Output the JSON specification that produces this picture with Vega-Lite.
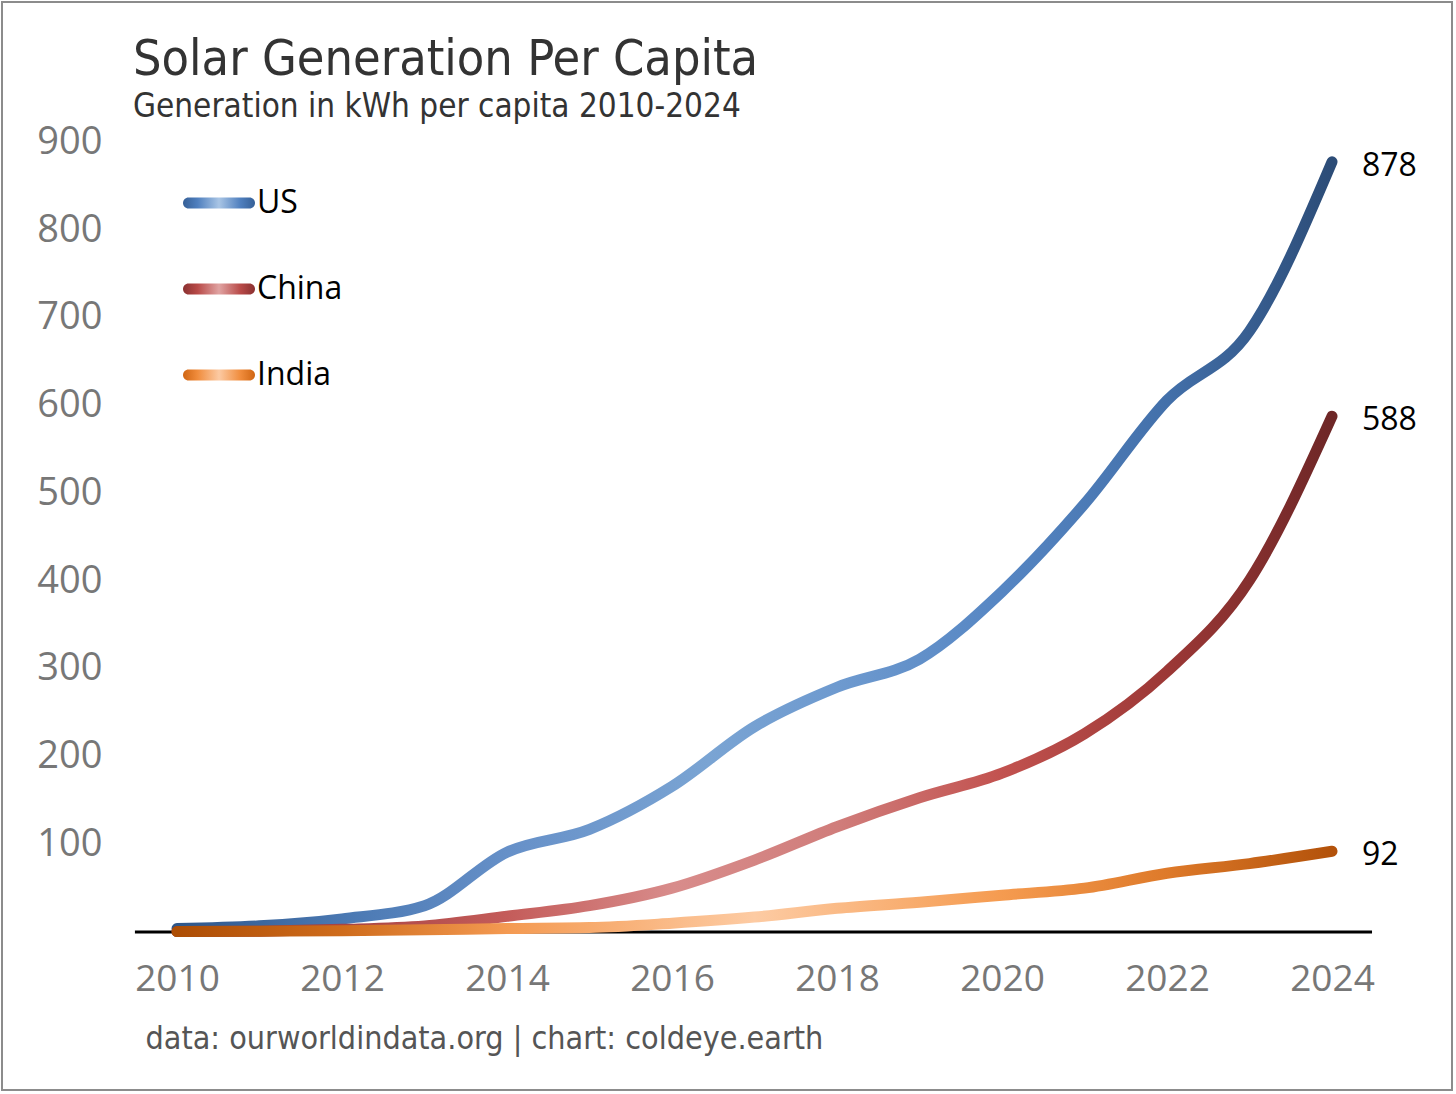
{
  "$schema": "https://vega.github.io/schema/vega-lite/v6.json",
  "width": 1450,
  "height": 1088,
  "padding": 2,
  "autosize": {"type": "pad"},
  "background": "white",
  "view": {"stroke": "#8c8c8c", "strokeWidth": 2},
  "title": {
    "text": "Solar Generation Per Capita",
    "subtitle": "Generation in kWh per capita 2010-2024",
    "anchor": "start",
    "frame": "group",
    "dx": 131,
    "offset": -122,
    "font": "Liberation Sans Narrow, DejaVu Sans Condensed, Roboto Condensed, Roboto",
    "fontSize": 50,
    "fontWeight": "normal",
    "color": "#333333",
    "subtitleFont": "Liberation Sans Narrow, DejaVu Sans Condensed, Roboto Condensed, Roboto",
    "subtitleFontSize": 33,
    "subtitleColor": "#333333",
    "subtitlePadding": 6
  },
  "data": {
    "values": [
      {"country": "US", "year": 2010, "value": 4},
      {"country": "US", "year": 2011, "value": 7},
      {"country": "US", "year": 2012, "value": 15},
      {"country": "US", "year": 2013, "value": 30},
      {"country": "US", "year": 2014, "value": 91},
      {"country": "US", "year": 2015, "value": 117},
      {"country": "US", "year": 2016, "value": 166},
      {"country": "US", "year": 2017, "value": 234},
      {"country": "US", "year": 2018, "value": 279},
      {"country": "US", "year": 2019, "value": 311},
      {"country": "US", "year": 2020, "value": 388},
      {"country": "US", "year": 2021, "value": 488},
      {"country": "US", "year": 2022, "value": 606},
      {"country": "US", "year": 2023, "value": 685},
      {"country": "US", "year": 2024, "value": 878},
      {"country": "China", "year": 2010, "value": 0.5},
      {"country": "China", "year": 2011, "value": 1},
      {"country": "China", "year": 2012, "value": 3},
      {"country": "China", "year": 2013, "value": 7},
      {"country": "China", "year": 2014, "value": 18},
      {"country": "China", "year": 2015, "value": 30},
      {"country": "China", "year": 2016, "value": 50},
      {"country": "China", "year": 2017, "value": 82},
      {"country": "China", "year": 2018, "value": 120},
      {"country": "China", "year": 2019, "value": 153},
      {"country": "China", "year": 2020, "value": 181},
      {"country": "China", "year": 2021, "value": 226},
      {"country": "China", "year": 2022, "value": 297},
      {"country": "China", "year": 2023, "value": 401},
      {"country": "China", "year": 2024, "value": 588},
      {"country": "India", "year": 2010, "value": 0.5},
      {"country": "India", "year": 2011, "value": 1},
      {"country": "India", "year": 2012, "value": 1.5},
      {"country": "India", "year": 2013, "value": 2.5},
      {"country": "India", "year": 2014, "value": 4},
      {"country": "India", "year": 2015, "value": 5},
      {"country": "India", "year": 2016, "value": 10},
      {"country": "India", "year": 2017, "value": 17},
      {"country": "India", "year": 2018, "value": 27},
      {"country": "India", "year": 2019, "value": 34},
      {"country": "India", "year": 2020, "value": 42},
      {"country": "India", "year": 2021, "value": 50},
      {"country": "India", "year": 2022, "value": 67},
      {"country": "India", "year": 2023, "value": 78},
      {"country": "India", "year": 2024, "value": 92}
    ]
  },
  "layer": [
    {
      "data": {"values": [{}]},
      "mark": {"type": "rule", "color": "black", "strokeWidth": 3},
      "encoding": {
        "x": {"datum": 2009.49, "type": "quantitative", "scale": {"domain": [2007.8788, 2025.4545], "nice": false, "zero": false}},
        "x2": {"datum": 2024.485},
        "y": {"datum": 0, "type": "quantitative", "scale": {"domain": [-180.11, 1060.17], "nice": false, "zero": false}}
      }
    },
    {
      "mark": {"type": "line", "strokeWidth": 11, "strokeCap": "round", "interpolate": "monotone", "opacity": 0},
      "encoding": {
        "x": {
          "field": "year",
          "type": "quantitative",
          "scale": {"domain": [2007.8788, 2025.4545], "nice": false, "zero": false},
          "axis": {
            "values": [2010, 2012, 2014, 2016, 2018, 2020, 2022, 2024],
            "format": "d",
            "domain": false,
            "ticks": false,
            "grid": false,
            "offset": -158,
            "labelPadding": 29,
            "labelFont": "Open Sans",
            "labelFontSize": 37,
            "labelColor": "#777777",
            "labelFlush": false,
            "labelOverlap": false,
            "title": "data: ourworldindata.org |  chart: coldeye.earth",
            "titleX": 143,
            "titleY": 106,
            "titleAlign": "left",
            "titleBaseline": "middle",
            "titleFont": "Liberation Sans Narrow, DejaVu Sans Condensed, Roboto Condensed, Roboto",
            "titleFontSize": 32,
            "titleFontWeight": "normal",
            "titleColor": "#555555"
          }
        },
        "y": {
          "field": "value",
          "type": "quantitative",
          "scale": {"domain": [-180.11, 1060.17], "nice": false, "zero": false},
          "axis": {
            "values": [100, 200, 300, 400, 500, 600, 700, 800, 900],
            "domain": false,
            "ticks": false,
            "grid": false,
            "offset": -133,
            "labelPadding": 33,
            "labelFont": "Open Sans",
            "labelFontSize": 38,
            "labelColor": "#777777",
            "title": null
          }
        },
        "color": {
          "field": "country",
          "type": "nominal",
          "scale": {"domain": ["US", "China", "India"], "range": ["#5b88c2", "#c8605d", "#f29a52"]},
          "legend": {
            "title": null,
            "orient": "none",
            "legendX": 181,
            "legendY": 165,
            "padding": 0,
            "symbolType": "M-0.847,-0.153L0.847,-0.153A0.153,0.153 0 0 1 0.847,0.153L-0.847,0.153A0.153,0.153 0 0 1 -0.847,-0.153Z",
            "symbolSize": 5184,
            "symbolStrokeWidth": 0,
            "labelFont": "Open Sans",
            "labelFontSize": 32,
            "labelColor": "black",
            "labelOffset": 2,
            "labelBaseline": "middle",
            "rowPadding": 34,
            "encode": {
              "symbols": {
                "update": {
                  "fill": [
                    {"test": "datum.value === 'US'", "value": {"gradient": "linear", "x1": 0, "y1": 0, "x2": 1, "y2": 0, "stops": [
                      {"offset": 0, "color": "#355f96"},
                      {"offset": 0.2, "color": "#4f7fbe"},
                      {"offset": 0.5, "color": "#a9c5e5"},
                      {"offset": 0.8, "color": "#4f7fbe"},
                      {"offset": 1, "color": "#355f96"}
                    ]}},
                    {"test": "datum.value === 'China'", "value": {"gradient": "linear", "x1": 0, "y1": 0, "x2": 1, "y2": 0, "stops": [
                      {"offset": 0, "color": "#8a3030"},
                      {"offset": 0.2, "color": "#b84a48"},
                      {"offset": 0.5, "color": "#e0a3a2"},
                      {"offset": 0.8, "color": "#b84a48"},
                      {"offset": 1, "color": "#8a3030"}
                    ]}},
                    {"value": {"gradient": "linear", "x1": 0, "y1": 0, "x2": 1, "y2": 0, "stops": [
                      {"offset": 0, "color": "#d06512"},
                      {"offset": 0.2, "color": "#f08c3c"},
                      {"offset": 0.5, "color": "#fccaa3"},
                      {"offset": 0.8, "color": "#f08c3c"},
                      {"offset": 1, "color": "#d06512"}
                    ]}}
                  ],
                  "stroke": {"value": "transparent"},
                  "opacity": {"value": 1}
                }
              }
            }
          }
        }
      }
    },
    {
      "transform": [{"filter": "datum.country === 'US'"}],
      "mark": {"type": "line", "strokeWidth": 11, "strokeCap": "round", "strokeJoin": "round", "interpolate": "monotone",
        "color": {"gradient": "linear", "x1": 0, "y1": 0, "x2": 1, "y2": 0, "stops": [
          {"offset": 0, "color": "#2e5689"},
          {"offset": 0.143, "color": "#4a78b2"},
          {"offset": 0.286, "color": "#6690c8"},
          {"offset": 0.46, "color": "#7aa4d3"},
          {"offset": 0.571, "color": "#6e9acf"},
          {"offset": 0.714, "color": "#5686c3"},
          {"offset": 0.857, "color": "#4370aa"},
          {"offset": 1, "color": "#2c4c77"}
        ]}
      },
      "encoding": {
        "x": {"field": "year", "type": "quantitative", "scale": {"domain": [2007.8788, 2025.4545], "nice": false, "zero": false}},
        "y": {"field": "value", "type": "quantitative", "scale": {"domain": [-180.11, 1060.17], "nice": false, "zero": false}}
      }
    },
    {
      "transform": [{"filter": "datum.country === 'China'"}],
      "mark": {"type": "line", "strokeWidth": 11, "strokeCap": "round", "strokeJoin": "round", "interpolate": "monotone",
        "color": {"gradient": "linear", "x1": 0, "y1": 0, "x2": 1, "y2": 0, "stops": [
          {"offset": 0, "color": "#8c2d2c"},
          {"offset": 0.286, "color": "#c45c5a"},
          {"offset": 0.43, "color": "#d88c8b"},
          {"offset": 0.571, "color": "#d07d7b"},
          {"offset": 0.714, "color": "#c2524f"},
          {"offset": 0.857, "color": "#9c3836"},
          {"offset": 1, "color": "#6e2727"}
        ]}
      },
      "encoding": {
        "x": {"field": "year", "type": "quantitative", "scale": {"domain": [2007.8788, 2025.4545], "nice": false, "zero": false}},
        "y": {"field": "value", "type": "quantitative", "scale": {"domain": [-180.11, 1060.17], "nice": false, "zero": false}}
      }
    },
    {
      "transform": [{"filter": "datum.country === 'India'"}],
      "mark": {"type": "line", "strokeWidth": 11, "strokeCap": "round", "strokeJoin": "round", "interpolate": "monotone",
        "color": {"gradient": "linear", "x1": 0, "y1": 0, "x2": 1, "y2": 0, "stops": [
          {"offset": 0, "color": "#ad4d04"},
          {"offset": 0.143, "color": "#cf6c1c"},
          {"offset": 0.286, "color": "#f49a52"},
          {"offset": 0.5, "color": "#fdcba3"},
          {"offset": 0.714, "color": "#f59b50"},
          {"offset": 0.857, "color": "#de7a2a"},
          {"offset": 1, "color": "#b3520a"}
        ]}
      },
      "encoding": {
        "x": {"field": "year", "type": "quantitative", "scale": {"domain": [2007.8788, 2025.4545], "nice": false, "zero": false}},
        "y": {"field": "value", "type": "quantitative", "scale": {"domain": [-180.11, 1060.17], "nice": false, "zero": false}}
      }
    },
    {
      "transform": [{"filter": "datum.year === 2024"}],
      "mark": {"type": "text", "align": "left", "baseline": "middle", "dx": 30, "dy": 4, "font": "Open Sans", "fontSize": 32, "color": "black"},
      "encoding": {
        "x": {"field": "year", "type": "quantitative", "scale": {"domain": [2007.8788, 2025.4545], "nice": false, "zero": false}},
        "y": {"field": "value", "type": "quantitative", "scale": {"domain": [-180.11, 1060.17], "nice": false, "zero": false}},
        "text": {"field": "value", "type": "quantitative", "format": "d"}
      }
    }
  ]
}
